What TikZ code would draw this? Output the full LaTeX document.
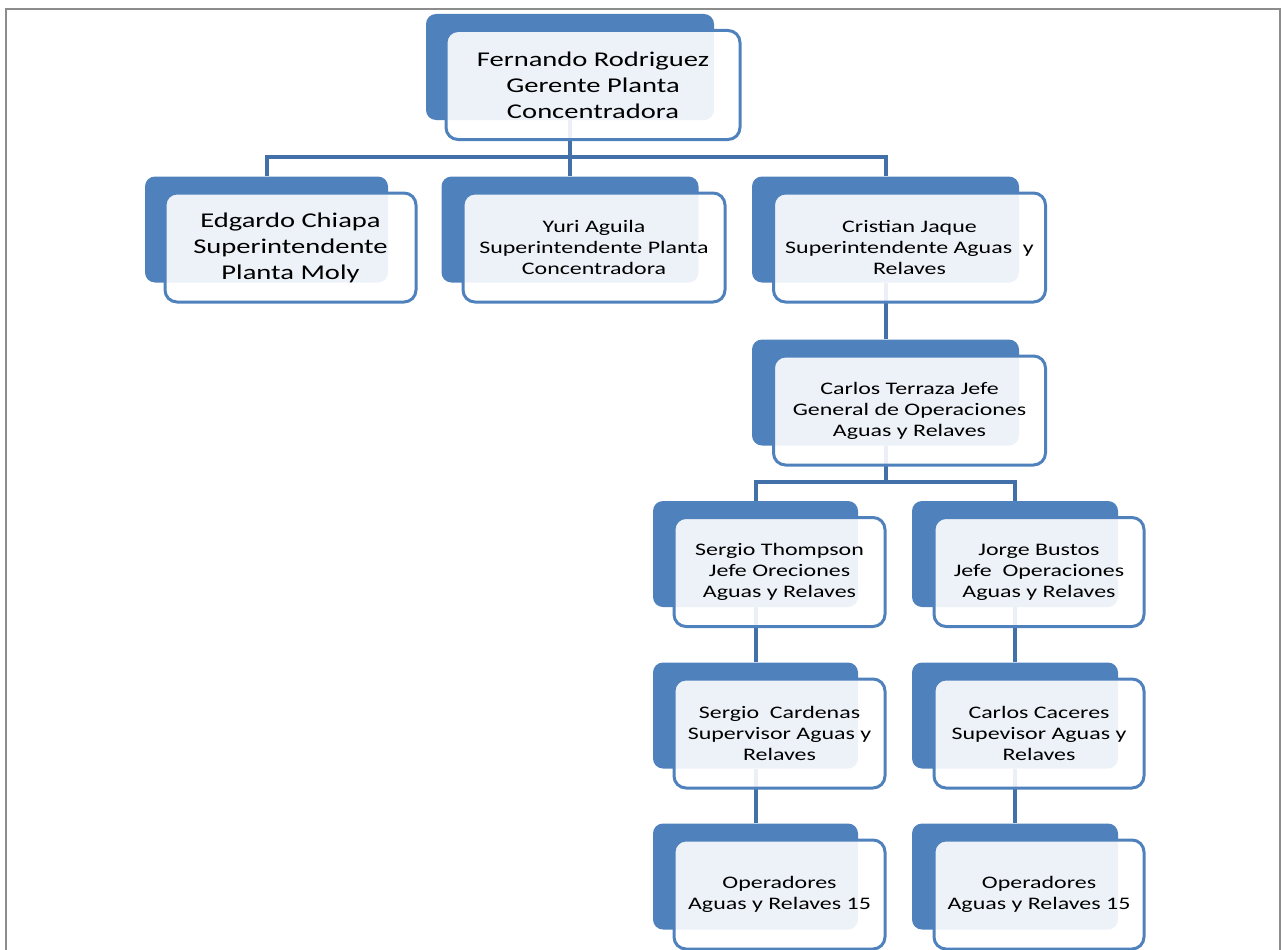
\documentclass[tikz,border=0pt]{standalone}
\usepackage{fontspec}
\setmainfont{Carlito}[FakeStretch=1.36]
\usetikzlibrary{positioning,calc,backgrounds}

\definecolor{boxblue}{RGB}{79,129,189}
\definecolor{lineblue}{RGB}{66,112,168}
\definecolor{framegray}{RGB}{140,140,140}

\begin{document}
\begin{tikzpicture}[x=1pt,y=-1pt,
    back/.style={fill=boxblue, rounded corners=10pt, minimum height=106pt},
    front/.style={draw=boxblue, line width=3pt, fill=white, fill opacity=0.9,
        text opacity=1, text=black, rounded corners=12pt, minimum height=109pt,
        align=center, xshift=24pt, yshift=-18pt},
    big/.style={font=\fontsize{21}{26}\selectfont},
    small/.style={font=\fontsize{17.6}{21}\selectfont},
    conn/.style={draw=lineblue, line width=4pt}]
    \useasboundingbox (0,0) rectangle (1282,950);
    \draw[framegray, line width=2.5pt] (6,952) -- (6,9) -- (1280,9) -- (1280,952);

    % gerente
    \node[back, minimum width=288pt] (fer) at (570,67) {};
    \node[front, big, minimum width=294pt, xshift=-1pt] (fer-t) at (fer) {Fernando Rodriguez\\Gerente Planta\\Concentradora};

    % superintendentes
    \node[back, minimum width=243pt] (edg) at (266.5,229.5) {};
    \node[front, big, minimum width=251pt] (edg-t) at (edg) {Edgardo Chiapa\\Superintendente\\Planta Moly};
    \node[back, minimum width=257pt] (yuri) at (570,229.5) {};
    \node[front, small, minimum width=262pt] (yuri-t) at (yuri) {Yuri Aguila\\Superintendente Planta\\Concentradora};
    \node[back, minimum width=267pt] (cris) at (885.5,229.5) {};
    \node[front, small, minimum width=272pt] (cris-t) at (cris) {Cristian Jaque\\Superintendente Aguas\ \ y\\Relaves};

    % jefe general
    \node[back, minimum width=267pt] (carT) at (885.5,392.5) {};
    \node[front, small, minimum width=272pt] (carT-t) at (carT) {Carlos Terraza Jefe\\General de Operaciones\\Aguas y Relaves};

    % jefes de operaciones
    \node[back, minimum width=205pt] (serT) at (755.5,554) {};
    \node[front, small, minimum width=211pt] (serT-t) at (serT) {Sergio Thompson\\Jefe Oreciones\\Aguas y Relaves};
    \node[back, minimum width=206pt] (jor) at (1015,554) {};
    \node[front, small, minimum width=210pt] (jor-t) at (jor) {Jorge Bustos\\Jefe\ \ Operaciones\\Aguas y Relaves};

    % supervisores
    \node[back, minimum width=205pt] (serC) at (755.5,715.5) {};
    \node[front, small, minimum width=211pt] (serC-t) at (serC) {Sergio\ \ Cardenas\\Supervisor Aguas y\\Relaves};
    \node[back, minimum width=206pt] (carC) at (1015,715.5) {};
    \node[front, small, minimum width=210pt] (carC-t) at (carC) {Carlos Caceres\\Supevisor Aguas y\\Relaves};

    % operadores
    \node[back, minimum width=205pt] (opA) at (755.5,876.5) {};
    \node[front, small, minimum width=211pt] (opA-t) at (opA) {Operadores\\Aguas y Relaves 15};
    \node[back, minimum width=206pt] (opB) at (1015,876.5) {};
    \node[front, small, minimum width=210pt] (opB-t) at (opB) {Operadores\\Aguas y Relaves 15};

    % lineas de mando
    \begin{scope}[on background layer]
        \coordinate (bus1) at ($(fer.south)+(0,37)$);
        \coordinate (bus2) at ($(carT.south)+(0,36)$);
        \draw[conn] (fer) -- (yuri);
        \draw[conn] (edg) |- (bus1) -| (cris);
        \draw[conn] (cris) -- (carT);
        \draw[conn] (carT) -- (bus2);
        \draw[conn] (serT) |- (bus2) -| (jor);
        \draw[conn] (serT) -- (serC) -- (opA);
        \draw[conn] (jor) -- (carC) -- (opB);
    \end{scope}
\end{tikzpicture}
\end{document}
